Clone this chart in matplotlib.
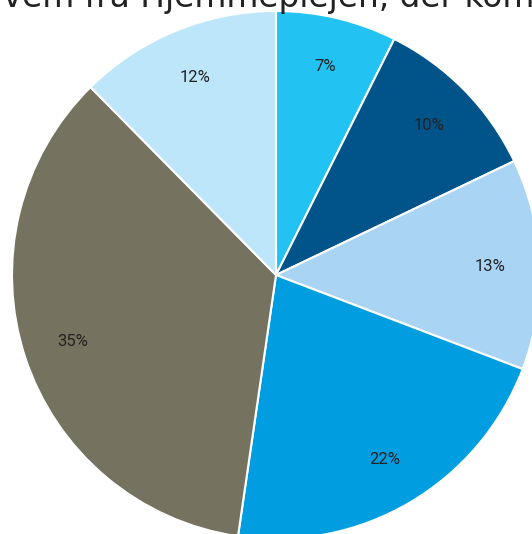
import matplotlib
matplotlib.use("Agg")
import matplotlib.pyplot as plt
import numpy as np

# Data (clockwise from 12 o'clock)
shares = [7.4, 10.5, 12.9, 21.5, 35.3, 12.4]
labels = ["7%", "10%", "13%", "22%", "35%", "12%"]
colors = ["#22C3F3", "#00548A", "#A9D4F4", "#009EE0", "#757260", "#BDE6FA"]
title = "Hvem fra Hjemmeplejen, der kom"

W, H = 532, 534
fig = plt.figure(figsize=(W / 100, H / 100), dpi=100)
ax = fig.add_axes([0, 0, 1, 1])

cx, cy, R = 276, 275, 264
wedges, _ = ax.pie(
    shares,
    colors=colors,
    startangle=90,
    counterclock=False,
    wedgeprops=dict(edgecolor="white", linewidth=1.5),
)
for w, lab in zip(wedges, labels):
    ang = np.deg2rad((w.theta1 + w.theta2) / 2)
    ax.text(0.81 * np.cos(ang), 0.81 * np.sin(ang), lab, ha="center", va="center",
            fontsize=12, color="#222222", family=["Roboto", "DejaVu Sans"])

ax.set_xlim(-cx / R, (W - cx) / R)
ax.set_ylim(-(H - cy) / R, cy / R)
ax.set_aspect("auto")
ax.axis("off")

fig.text(-22 / W, 1 - 7.5 / H, title, ha="left", va="baseline", fontsize=23.6,
         color="#222222", family="DejaVu Sans")

fig.savefig("out.png", dpi=100)
